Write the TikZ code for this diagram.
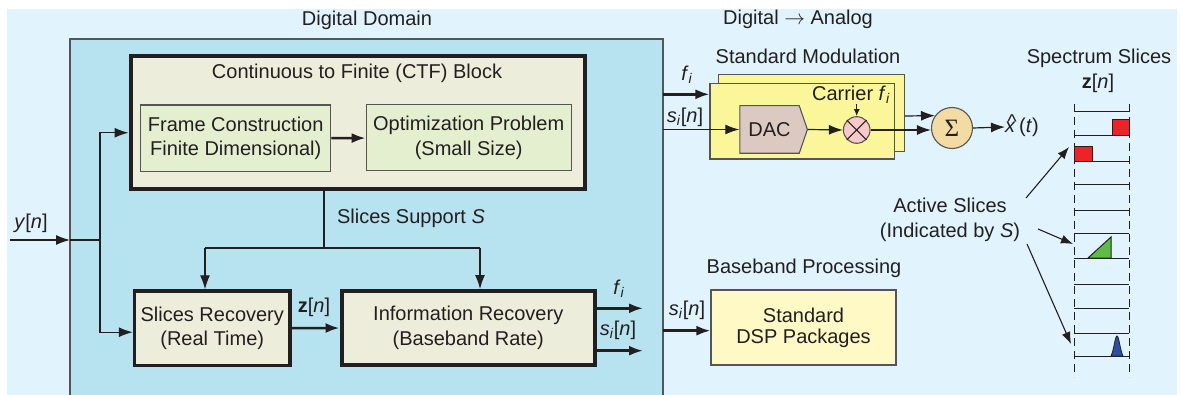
\documentclass[tikz,border=0pt]{standalone}
\usepackage{fontspec}
\setmainfont{Liberation Sans}
\newfontfamily\serifS{Liberation Serif}
\usetikzlibrary{arrows.meta,shapes.symbols}
\definecolor{bgout}{HTML}{E1F3FC}
\definecolor{ddblue}{HTML}{B7E2EF}
\definecolor{beige}{HTML}{EDEDDC}
\definecolor{green1}{HTML}{E4EFD0}
\definecolor{yel}{HTML}{FCF69B}
\definecolor{dacc}{HTML}{DCCAC2}
\definecolor{mixc}{HTML}{F7C9C9}
\definecolor{sumc}{HTML}{F2DCA4}
\definecolor{dspc}{HTML}{FFF9C5}
\definecolor{sred}{HTML}{EE2229}
\definecolor{sgreen}{HTML}{5DBB46}
\definecolor{sblue}{HTML}{2E4FA0}
\definecolor{txt}{HTML}{231F20}
\definecolor{dark}{HTML}{231F20}
\definecolor{bord}{HTML}{555555}
\newcommand{\tfi}{\textit{f}\textsubscript{\textit{i}}}
\newcommand{\tsin}{\textit{s}\textsubscript{\textit{i}}[\textit{n}]}
\newcommand{\xhatt}{\ooalign{\textit{x}\cr\hidewidth\kern3pt\raisebox{4pt}{\^{}}\hidewidth\cr}\,(\textit{t})}
\begin{document}
\begin{tikzpicture}[x=1pt,y=-1pt, font=\fontsize{20}{24.5}\selectfont, text=txt,
 lbl/.style={inner sep=0pt, align=center},
 thinbox/.style={draw=bord, line width=1.1pt, inner sep=0pt, align=center},
 thickbox/.style={draw=dark, line width=4pt, inner sep=0pt, align=center, fill=beige},
 arr/.style={-{Latex[length=14pt,width=10pt]}, line width=1.2pt, draw=dark},
 sarr/.style={-{Latex[length=12pt,width=9pt]}, line width=1.1pt, draw=dark},
 tarr/.style={-{Latex[length=14pt,width=10pt]}, line width=2.5pt, draw=dark},
 ln/.style={line width=1.2pt, draw=dark}]
\useasboundingbox (0,0) rectangle (1182,395);
\fill[white] (0,0) rectangle (1182,395);
\fill[bgout] (7,9) rectangle (1177,395);
% digital domain
\fill[ddblue] (70,39) rectangle (663,395);
\draw[bord, line width=1.2pt] (70,396) -- (70,39) -- (663,39) -- (663,396);
\node[lbl] (tdd) at (367,20) {Digital Domain};
\node[lbl] (tda) at (798,19) {Digital $\rightarrow$ Analog};
% CTF block
\node[thickbox, minimum width=454pt, minimum height=132.5pt] (ctf) at (357.5,122.75) {};
\node[lbl] (ctft) at (357,73) {Continuous to Finite (CTF) Block};
\node[thinbox, fill=green1, minimum width=190pt, minimum height=66.5pt] (frame) at (235.7,138.3) {Frame Construction\\ Finite Dimensional)};
\node[thinbox, fill=green1, minimum width=205pt, minimum height=66pt] (opt) at (468.7,137.9) {Optimization Problem\\(Small Size)};
\draw[tarr] (frame) -- (opt);
% recovery blocks
\node[thickbox, line width=3.5pt, minimum width=155.5pt, minimum height=74.3pt] (slr) at (212.25,328.2) {Slices Recovery\\(Real Time)};
\node[thickbox, minimum width=253.5pt, minimum height=73.7pt] (inr) at (468.25,327.85) {Information Recovery\\(Baseband Rate)};
% input
\coordinate (yin) at (10,240);
\coordinate (ddl) at (70,240);
\coordinate (jn) at (100,240);
\draw[arr] (yin) -- (ddl);
\draw[ln] (ddl) -- (jn);
\draw[arr] (jn) |- ([yshift=-10pt]ctf.west);
\draw[arr] (jn) |- ([yshift=-4pt]slr.west);
\node[lbl] (ylbl) at (31,223) {\textit{y}[\textit{n}]};
% slices support
\coordinate (ssj) at (324,248);
\coordinate (b1) at (205,248);
\coordinate (b2) at (480,248);
\draw[ln] ([xshift=-33.5pt]ctf.south) -- (ssj);
\draw[ln] (b1) -- (b2);
\draw[arr] (b1) -- (b1 |- slr.north);
\draw[arr] (b2) -- (b2 |- inr.north);
\node[lbl] (sslbl) at (411,218) {Slices Support \textit{S}};
\draw[tarr] (slr) -- (inr);
\node[lbl] (zlbl) at (314,307) {\textbf{z}[\textit{n}]};
% outputs of information recovery
\coordinate (o1) at (643,308.3);
\coordinate (o2) at (643,350.7);
\draw[tarr] (inr.east |- o1) -- (o1);
\draw[tarr] (inr.east |- o2) -- (o2);
\node[lbl] (o1lbl) at (619,289) {\tfi};
\node[lbl] (o2lbl) at (618,330) {\tsin};
% standard modulation
\node[lbl] (modt) at (808,56) {Standard Modulation};
\node[thinbox, fill=yel, minimum width=186pt, minimum height=77.4pt] (modb) at (811.3,113) {};
\node[thinbox, fill=yel, minimum width=184.7pt, minimum height=75.7pt] (modf) at (802.35,121.15) {};
\node[signal, signal to=east, signal pointer angle=142, draw=bord, line width=1.1pt, fill=dacc, minimum width=67.6pt, minimum height=47.6pt, inner sep=0pt] (dac) at (769.5,129.5) {DAC};
\node[circle, draw=bord, line width=1.1pt, fill=mixc, minimum size=26.6pt, inner sep=0pt] (mix) at (856.7,130) {};
\draw[dark, line width=1.1pt] (mix.45) -- (mix.225) (mix.135) -- (mix.315);
\node[lbl] (car) at (851,95) {Carrier \tfi};
\draw[-{Latex[length=7pt,width=6pt]}, ln] (car.south -| mix.north) -- (mix.north);
\coordinate (fin) at (663,94.3);
\coordinate (sin) at (663,129.5);
\draw[tarr] (fin) -- (fin -| modf.west);
\draw[arr] (sin) -- (dac.west);
\node[lbl] (finl) at (687,75) {\tfi};
\node[lbl] (sinl) at (685,117) {\tsin};
\draw[arr] (dac.east) -- (mix.west);
% sum
\node[circle, draw=bord, line width=1.1pt, fill=sumc, minimum size=41pt, inner sep=0pt] (sum) at (952,128) {\serifS\fontsize{25}{25}\selectfont Σ};
\draw[arr] (mix.east) -- (mix.east -| sum.west);
\draw[arr] ([yshift=-3pt]modb.east) -- (sum.144);
\node[lbl, anchor=west] (xh) at (1005,127) {\xhatt};
\draw[arr] (sum.east) -- (xh.west);
% baseband
\node[lbl] (bbt) at (804,268) {Baseband Processing};
\node[thinbox, fill=dspc, minimum width=185pt, minimum height=75pt] (dsp) at (803.5,327.5) {Standard\\[-3.5pt]DSP Packages};
\coordinate (din) at (663,330.7);
\draw[tarr] (din) -- (din -| dsp.west);
\node[lbl] (dinl) at (687,310) {\tsin};
% spectrum slices
\node[lbl] (spt) at (1099,58) {Spectrum Slices};
\node[lbl] (spz) at (1098,83) {\textbf{z}[\textit{n}]};
\draw[dark, line width=1pt, dash pattern=on 8pt off 5pt] (1074,104) -- (1074,377);
\draw[dark, line width=1pt, dash pattern=on 8pt off 5pt] (1129,104) -- (1129,377);
\foreach \yy in {112,136,162,185,211,234,258,284,308,333,356}
  \draw[dark, line width=1pt] (1074,\yy) -- (1129,\yy);
\filldraw[fill=sred, draw=dark, line width=1pt] (1112,120) rectangle (1129,136);
\filldraw[fill=sred, draw=dark, line width=1pt] (1074,147) rectangle (1092,162);
\filldraw[fill=sgreen, draw=dark, line width=1pt] (1088,258) -- (1111,258) -- (1111,237) -- cycle;
\filldraw[fill=sblue, draw=dark, line width=0.8pt] (1111,356) .. controls (1114,350) and (1115,336) .. (1117,336) .. controls (1119,336) and (1120,350) .. (1123,356) -- cycle;
% active slices
\node[lbl] (act) at (950,220) {Active Slices\\(Indicated by \textit{S})};
\coordinate (a1s) at (1026,198);
\coordinate (a1e) at (1069,147);
\coordinate (a2s) at (1038,229);
\coordinate (a2e) at (1073,244);
\coordinate (a3s) at (1027,244);
\coordinate (a3e) at (1071,344);
\draw[sarr] (a1s) -- (a1e);
\draw[sarr] (a2s) -- (a2e);
\draw[sarr] (a3s) -- (a3e);
\end{tikzpicture}
\end{document}
